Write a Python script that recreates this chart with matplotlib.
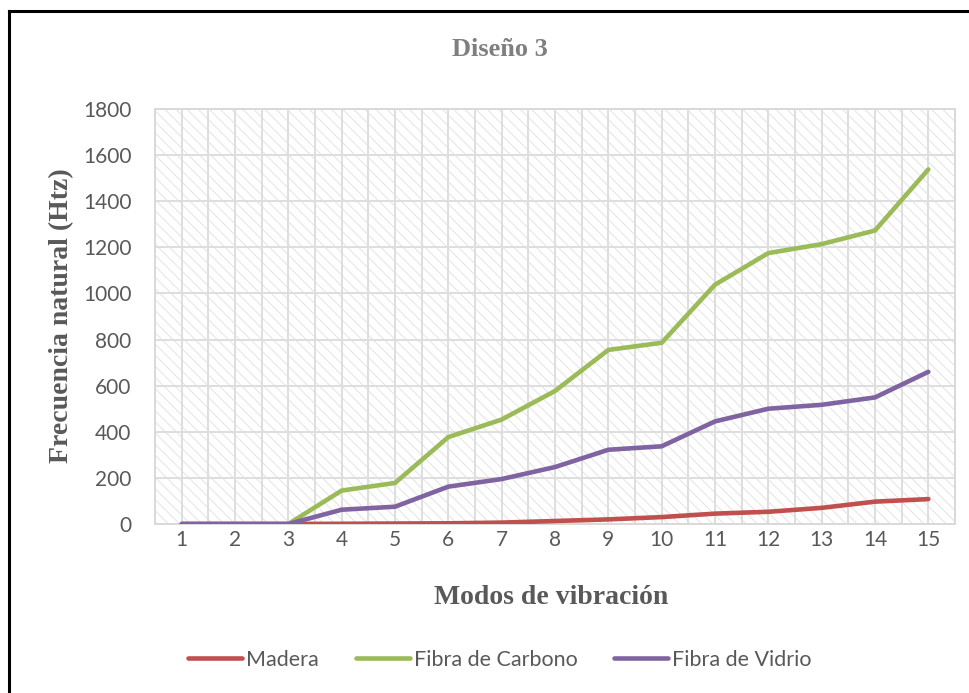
import matplotlib
matplotlib.use("Agg")
import matplotlib.pyplot as plt
from matplotlib.lines import Line2D
from matplotlib.ticker import MultipleLocator

# Frecuencias naturales por modo de vibración (Hz)
modos = list(range(1, 16))
madera = [0, 0, 0, 1, 2, 3, 6, 13, 20, 30, 45, 53, 70, 97, 108]
carbono = [0, 0, 0, 145, 178, 377, 453, 577, 755, 786, 1038, 1175, 1214, 1273, 1538]
vidrio = [0, 0, 0, 62, 75, 162, 195, 247, 322, 337, 445, 500, 517, 549, 660]

series = [
    ("Madera", madera, "#C0504D"),
    ("Fibra de Carbono", carbono, "#9BBB59"),
    ("Fibra de Vidrio", vidrio, "#8064A2"),
]

plt.rcParams["font.family"] = ["Lato", "DejaVu Sans"]
plt.rcParams["hatch.linewidth"] = 0.7

GRIS_TEXTO = "#595959"
GRIS_REJILLA = "#DEDEDE"

fig = plt.figure(figsize=(9.69, 6.93), dpi=100)
ax = fig.add_axes([155 / 969, 1 - 524 / 693, 800 / 969, 415 / 693])

# fondo con trama diagonal clara
ax.patch.set_facecolor("white")
ax.patch.set_edgecolor("#E3E3E3")
ax.patch.set_hatch("\\\\\\")

for nombre, valores, color in series:
    ax.plot(modos, valores, color=color, lw=3.3, label=nombre,
            solid_capstyle="round", solid_joinstyle="round", zorder=3)

ax.set_xlim(0.5, 15.5)
ax.set_ylim(0, 1800)
ax.set_xticks(modos)
ax.xaxis.set_minor_locator(MultipleLocator(0.5))
ax.yaxis.set_major_locator(MultipleLocator(200))

ax.set_axisbelow(True)
ax.grid(True, which="both", axis="x", color=GRIS_REJILLA, lw=1.4)
ax.grid(True, which="major", axis="y", color=GRIS_REJILLA, lw=1.4)

ax.tick_params(which="both", length=0, labelsize=15, labelcolor=GRIS_TEXTO)
ax.tick_params(axis="y", pad=17)
ax.tick_params(axis="x", pad=4)
for lado in ax.spines.values():
    lado.set_color("#D9D9D9")
    lado.set_linewidth(1.4)

fig.text(0.516, 1 - 50 / 693, "Diseño 3", ha="center", va="center",
         family="Liberation Serif", weight="bold", fontsize=19, color="#7F7F7F")
fig.text(62 / 969, 1 - 316 / 693, "Frecuencia natural (Htz)", rotation=90,
         ha="center", va="center", family="Liberation Serif", weight="bold",
         fontsize=20, color=GRIS_TEXTO)
fig.text(551 / 969, 1 - 597 / 693, "Modos de vibración", ha="center",
         va="center", family="Liberation Serif", weight="bold", fontsize=20,
         color=GRIS_TEXTO)

leyenda = fig.legend(loc="center", bbox_to_anchor=(0.516, 1 - 660 / 693),
                     ncol=3, frameon=False, fontsize=15.5, handlelength=2.5,
                     handletextpad=0.2, columnspacing=1.7)
for txt in leyenda.get_texts():
    txt.set_color(GRIS_TEXTO)
for linea in leyenda.get_lines():
    linea.set_linewidth(3.3)

# marco recortado: solo borde superior e izquierdo
fig.add_artist(Line2D([9 / 969, 1], [1 - 11 / 693] * 2, color="black", lw=2.2))
fig.add_artist(Line2D([9 / 969] * 2, [0, 1 - 11 / 693], color="black", lw=2.2))

fig.savefig("out.png", dpi=100)
